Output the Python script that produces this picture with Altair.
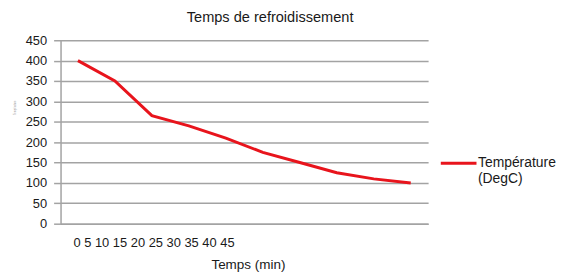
import altair as alt
import pandas as pd

# ---- data ----
temps_min = [0, 5, 10, 15, 20, 25, 30, 35, 40, 45]
temperature = [400, 350, 265, 240, 210, 175, 150, 125, 110, 100]
series_name = "Température (DegC)"
y_ticks = [0, 50, 100, 150, 200, 250, 300, 350, 400, 450]
chart_title = "Temps de refroidissement"
x_title = "Temps (min)"
y_title = "Température"

df = pd.DataFrame({"t": temps_min, "v": temperature, "s": series_name})
joined_labels = " ".join(str(t) for t in temps_min)

FONT = "Liberation Sans"
GRID = "#a3a3a3"
TEXT = "#1a1a1a"

x_axis = alt.Axis(
    title=x_title,
    labelExpr=f"datum.value == {temps_min[0]} ? '{joined_labels}' : ''",
    labelAlign="left",
    labelOffset=-5,
    labelAngle=0,
    ticks=False,
    tickSize=0,
    labelPadding=13.5,
    labelFontSize=13,
    labelLimit=0,
    labelOverlap=False,
    labelColor=TEXT,
    grid=False,
    domainColor=GRID,
    domainWidth=1.5,
    titleFontSize=13.6,
    titleFontWeight="normal",
    titleColor=TEXT,
    titleX=189,
    titleY=45.1,
    titleBaseline="alphabetic",
    titleAlign="center",
)

y_axis = alt.Axis(
    values=y_ticks,
    title=y_title,
    titleFontSize=2.6,
    titleFontWeight="normal",
    titleColor="#999999",
    titleX=-44,
    titleY=67.6,
    titleAngle=270,
    labelFontSize=13,
    labelColor=TEXT,
    labelPadding=7,
    tickSize=7,
    tickColor=GRID,
    tickWidth=1.5,
    domainColor=GRID,
    domainWidth=1.5,
    gridColor=GRID,
    gridWidth=1.5,
)

legend_kwargs = dict(
    title=None,
    orient="none",
    legendX=382,
    legendY=104.5,
    symbolType="stroke",
    symbolSize=1296,
    symbolStrokeWidth=3,
    labelFontSize=14,
    labelColor=TEXT,
    labelOffset=0,
    labelExpr="split(datum.label, ' ')",
    labelLimit=0,
    padding=0,
)
try:
    alt.Legend(labelLineHeight=18.7).to_dict()
    legend_kwargs["labelLineHeight"] = 18.7
except Exception:
    pass

legend = alt.Legend(**legend_kwargs)

chart = (
    alt.Chart(df)
    .mark_line(strokeWidth=3, interpolate="linear")
    .encode(
        x=alt.X("t:O", scale=alt.Scale(type="point", padding=0.47), axis=x_axis),
        y=alt.Y("v:Q", scale=alt.Scale(domain=[0, 450]), axis=y_axis),
        color=alt.Color("s:N", scale=alt.Scale(range=["#e8141c"]), legend=legend),
    )
    .properties(
        width=370.7,
        height=185,
        padding={"left": 53, "top": 31.4, "right": 130, "bottom": 49.6},
        autosize=alt.AutoSizeParams(type="none"),
        title=alt.TitleParams(
            text=chart_title,
            fontSize=14.7,
            font=FONT,
            fontWeight="normal",
            color=TEXT,
            anchor="middle",
            frame="group",
            dx=26,
            offset=10,
        ),
    )
    .configure(font=FONT)
    .configure_view(stroke=None)
)

chart.save("out.html", embed_options={"renderer": "svg", "actions": False})
